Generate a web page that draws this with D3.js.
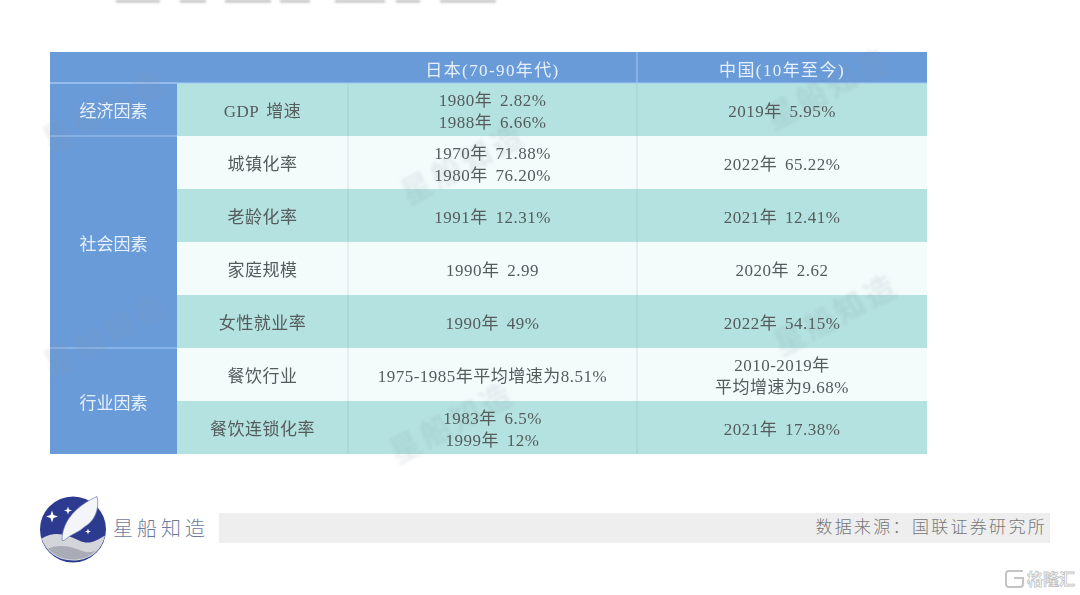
<!DOCTYPE html>
<html>
<head>
<meta charset="utf-8">
<script src="https://d3js.org/d3.v7.min.js"></script>
<style>
html, body { margin: 0; padding: 0; background: #fff; overflow: hidden; }
text { font-family: "Liberation Serif", "Noto Sans CJK SC", serif; }
.soft { filter: blur(0.35px); }
</style>
</head>
<body>
<svg id="chart"></svg>
<script>
// contenu du tableau
const headers = ['日本(70-90年代)', '中国(10年至今)'];
const indicators = ['GDP 增速', '城镇化率', '老龄化率', '家庭规模', '女性就业率', '餐饮行业', '餐饮连锁化率'];
const japan = [
    ['1980年 2.82%', '1988年 6.66%'],
    ['1970年 71.88%', '1980年 76.20%'],
    ['1991年 12.31%'],
    ['1990年 2.99'],
    ['1990年 49%'],
    ['1975-1985年平均增速为8.51%'],
    ['1983年 6.5%', '1999年 12%']
];
const china = [
    ['2019年 5.95%'],
    ['2022年 65.22%'],
    ['2021年 12.41%'],
    ['2020年 2.62'],
    ['2022年 54.15%'],
    ['2010-2019年', '平均增速为9.68%'],
    ['2021年 17.38%']
];
const groupNames = ['经济因素', '社会因素', '行业因素'];
const groupStart = [0, 1, 5];
const groupEnd = [1, 5, 7];
const watermarkText = '星船知造';
const watermarkSpots = [[105, 110], [463, 163], [106, 334], [452, 422], [828, 88], [836, 314]];

const width = 1080;
const height = 595;

const svg = d3.select('#chart')
    .attr('width', width)
    .attr('height', height)
    .style('display', 'block');

// Échelles : lignes et colonnes du tableau
const y = d3.scaleLinear().domain([0, indicators.length]).range([83, 454]);
const colX = d3.scaleOrdinal().domain(['group', 'name', 'japan', 'china', 'end']).range([50, 177, 348, 637, 927]);

const blue = '#6a9bd9';
const teal = '#b3e2e0';
const pale = '#f3fbfb';
const textColor = '#565b5c';

const table = svg.append('g').attr('class', 'soft');

// en-tête
table.append('rect')
    .attr('x', colX('group')).attr('y', 52)
    .attr('width', colX('end') - colX('group')).attr('height', y(0) - 52)
    .attr('fill', blue);

table.selectAll('.band')
    .data(indicators)
    .enter()
    .append('rect')
    .attr('class', 'band')
    .attr('x', colX('name'))
    .attr('y', (d, i) => y(i))
    .attr('width', colX('end') - colX('name'))
    .attr('height', (d, i) => y(i + 1) - y(i))
    .attr('fill', (d, i) => i % 2 === 0 ? teal : pale);

// colonne de gauche
table.selectAll('.group')
    .data(groupNames)
    .enter()
    .append('rect')
    .attr('class', 'group')
    .attr('x', colX('group'))
    .attr('y', (d, i) => y(groupStart[i]))
    .attr('width', colX('name') - colX('group'))
    .attr('height', (d, i) => y(groupEnd[i]) - y(groupStart[i]))
    .attr('fill', blue);

// filets horizontaux de la colonne de gauche
table.selectAll('.groupLine')
    .data(groupStart)
    .enter()
    .append('line')
    .attr('class', 'groupLine')
    .attr('x1', colX('group'))
    .attr('x2', colX('name'))
    .attr('y1', d => y(d))
    .attr('y2', d => y(d))
    .attr('stroke', '#a3c8f2')
    .attr('stroke-width', 1);

table.append('line')
    .attr('x1', colX('group')).attr('x2', colX('end'))
    .attr('y1', y(0)).attr('y2', y(0))
    .attr('stroke', '#a3c8f2');

// filets verticaux
['japan', 'china'].forEach(c => {
    table.selectAll('.v' + c)
        .data(indicators)
        .enter()
        .append('line')
        .attr('x1', colX(c))
        .attr('x2', colX(c))
        .attr('y1', (d, i) => y(i))
        .attr('y2', (d, i) => y(i + 1))
        .attr('stroke', (d, i) => i % 2 === 0 ? '#a1d0d0' : '#d3e2e4');
});
table.append('line')
    .attr('x1', colX('china')).attr('x2', colX('china'))
    .attr('y1', 52).attr('y2', y(0))
    .attr('stroke', '#a3c8f2');

// filigranes
svg.append('g')
    .selectAll('text')
    .data(watermarkSpots)
    .enter()
    .append('text')
    .attr('transform', d => `translate(${d[0]},${d[1]}) rotate(-28)`)
    .attr('text-anchor', 'middle')
    .attr('dominant-baseline', 'central')
    .attr('font-size', 30)
    .attr('font-weight', 700)
    .attr('letter-spacing', 4)
    .attr('fill', '#7f8f9c')
    .attr('opacity', 0.15)
    .style('filter', 'blur(1.4px)')
    .text(watermarkText);

// textes
const textLayer = svg.append('g').attr('class', 'soft');

function cellText(lines, cx, i, color) {
    const cy = (y(i) + y(i + 1)) / 2 + 1.5;
    textLayer.append('g')
        .selectAll('text')
        .data(lines)
        .enter()
        .append('text')
        .attr('x', cx)
        .attr('y', (d, k) => cy + (k - (lines.length - 1) / 2) * 22)
        .attr('text-anchor', 'middle')
        .attr('dominant-baseline', 'central')
        .attr('font-size', 17)
        .attr('letter-spacing', 0.5)
        .attr('word-spacing', 3)
        .attr('fill', color)
        .text(d => d);
}

const nameMid = (colX('name') + colX('japan')) / 2;
const japanMid = (colX('japan') + colX('china')) / 2;
const chinaMid = (colX('china') + colX('end')) / 2;

indicators.forEach((d, i) => {
    cellText([d], nameMid, i, textColor);
    cellText(japan[i], japanMid, i, textColor);
    cellText(china[i], chinaMid, i, textColor);
});

groupNames.forEach((d, i) => {
    const mid = (y(groupStart[i]) + y(groupEnd[i])) / 2;
    textLayer.append('text')
        .attr('x', (colX('group') + colX('name')) / 2)
        .attr('y', mid + 2)
        .attr('text-anchor', 'middle')
        .attr('dominant-baseline', 'central')
        .attr('font-size', 17)
        .attr('fill', '#e6f0fb')
        .text(d);
});

textLayer.selectAll('.head')
    .data(headers)
    .enter()
    .append('text')
    .attr('class', 'head')
    .attr('x', (d, i) => i === 0 ? japanMid : chinaMid)
    .attr('y', (52 + y(0)) / 2 + 2.5)
    .attr('text-anchor', 'middle')
    .attr('dominant-baseline', 'central')
    .attr('font-size', 17)
    .attr('letter-spacing', 1.4)
    .attr('fill', '#e6f0fb')
    .text(d => d);

// reste du titre coupé en haut de l'image
const titleBits = [[116, 44], [180, 26], [225, 46], [280, 30], [335, 50], [396, 24], [440, 56]];
svg.append('g')
    .selectAll('rect')
    .data(titleBits)
    .enter()
    .append('rect')
    .attr('x', d => d[0])
    .attr('y', 0)
    .attr('width', d => d[1])
    .attr('height', 2.5)
    .attr('fill', '#8a8a8a')
    .attr('opacity', 0.55)
    .style('filter', 'blur(0.8px)');

// pied de page : logo, bandeau et source
const logo = svg.append('g').attr('transform', 'translate(73,529.5)');
logo.append('circle').attr('r', 33).attr('fill', '#2c3b8f');
logo.append('path')
    .attr('d', 'M-31.5,9 C-18,1 -6,5 6,11 C16,16 24,11 32,6 C28,24 14,31 0,31 C-16,31 -27,22 -31.5,9 Z')
    .attr('fill', '#d3d5da');
logo.append('path')
    .attr('d', 'M-25,19 C-14,14 -2,17 8,21 C15,24 20,23 24,20 C16,28 8,30 0,30 C-10,30 -19,26 -25,19 Z')
    .attr('fill', '#a9acb6');
logo.append('path')
    .attr('d', 'M-11,11 C-11,-9 4,-24 24,-33 C27,-20 21,-8 12,-3 C6,3 -3,5 -9,11 Z')
    .attr('fill', '#f4f5f8')
    .attr('stroke', '#6f78ad')
    .attr('stroke-width', 0.7);
logo.selectAll('.star')
    .data([[-21, -13, 6], [-5, -19, 4], [-8, 2, 1.5], [15, 2, 3]])
    .enter()
    .append('path')
    .attr('class', 'star')
    .attr('d', d => `M${d[0]},${d[1] - d[2]} L${d[0] + d[2] / 4},${d[1] - d[2] / 4} L${d[0] + d[2]},${d[1]} L${d[0] + d[2] / 4},${d[1] + d[2] / 4} L${d[0]},${d[1] + d[2]} L${d[0] - d[2] / 4},${d[1] + d[2] / 4} L${d[0] - d[2]},${d[1]} L${d[0] - d[2] / 4},${d[1] - d[2] / 4} Z`)
    .attr('fill', '#fff');

svg.append('text')
    .attr('x', 113).attr('y', 529)
    .attr('dominant-baseline', 'central')
    .attr('font-size', 20)
    .attr('font-weight', 300)
    .attr('letter-spacing', 4)
    .attr('fill', '#6d7a9c')
    .text('星船知造');

svg.append('rect')
    .attr('x', 219).attr('y', 513)
    .attr('width', 831).attr('height', 30)
    .attr('fill', '#eeeeee');

svg.append('text')
    .attr('x', 1047).attr('y', 527)
    .attr('text-anchor', 'end')
    .attr('dominant-baseline', 'central')
    .attr('font-size', 17)
    .attr('font-weight', 300)
    .attr('letter-spacing', 2.3)
    .attr('fill', '#777')
    .text('数据来源：国联证券研究所');

// marque en bas à droite
svg.append('path')
    .attr('d', 'M1023,571 H1009 Q1006,571 1006,574 V584 Q1006,587 1009,587 H1020 Q1023,587 1023,584 V578 H1014')
    .attr('fill', 'none')
    .attr('stroke', '#c4c4c4')
    .attr('stroke-width', 2);

svg.append('text')
    .attr('x', 1027).attr('y', 579)
    .attr('dominant-baseline', 'central')
    .attr('font-size', 16)
    .attr('font-weight', 700)
    .attr('fill', '#fff')
    .attr('stroke', '#c4c4c4')
    .attr('stroke-width', 0.8)
    .text('格隆汇');
</script>
</body>
</html>
